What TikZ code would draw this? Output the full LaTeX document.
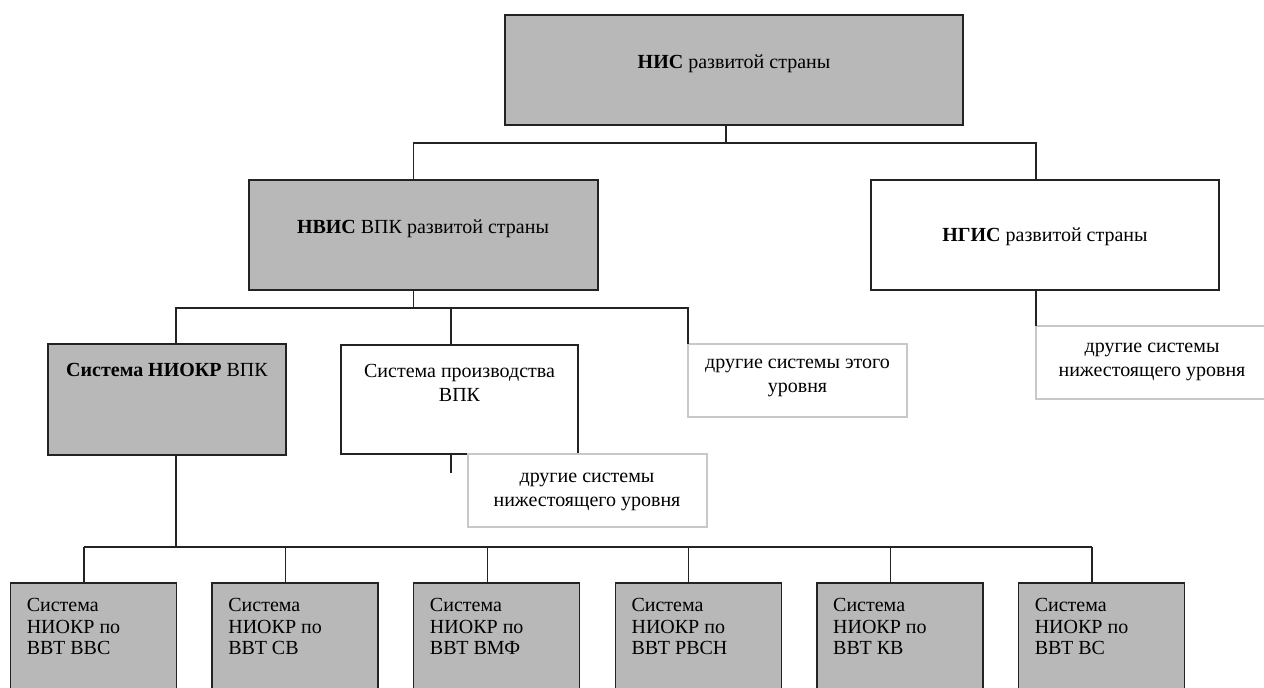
\documentclass[tikz,border=0pt]{standalone}
\usepackage{fontspec}
\setmainfont{Liberation Serif}
\definecolor{boxgray}{RGB}{184,184,184}
\definecolor{lightborder}{RGB}{200,200,200}
\definecolor{linec}{RGB}{35,35,35}
\begin{document}
\begin{tikzpicture}[x=0.75pt,y=-0.75pt,
  boxg/.style={draw=linec, line width=1pt, fill=boxgray, anchor=north west, inner sep=0pt, outer sep=0pt},
  boxw/.style={draw=linec, line width=1pt, fill=white, anchor=north west, inner sep=0pt, outer sep=0pt},
  boxl/.style={draw=lightborder, line width=0.8pt, fill=white, anchor=north west, inner sep=0pt, outer sep=0pt},
  conn/.style={draw=linec, line width=1pt},
  txt/.style={font=\fontsize{15pt}{18pt}\selectfont, align=center, inner sep=0pt},
  txtl/.style={font=\fontsize{15pt}{16.2pt}\selectfont, align=left, anchor=north west, inner sep=0pt}]
\useasboundingbox (0,0) rectangle (1264,688);
\clip (0,0) rectangle (1264,688);

% boxes
\node[boxg, minimum width={458*0.75pt}, minimum height={110*0.75pt}] (top) at (505,15) {};
\node[boxg, minimum width={349*0.75pt}, minimum height={110*0.75pt}] (nvis) at (249,180) {};
\node[boxw, minimum width={348*0.75pt}, minimum height={110*0.75pt}] (ngis) at (871,180) {};
\node[boxg, minimum width={238*0.75pt}, minimum height={111*0.75pt}] (niokr) at (48,344) {};
\node[boxw, minimum width={237*0.75pt}, minimum height={109*0.75pt}] (prod) at (341,345) {};
\node[boxl, minimum width={239*0.75pt}, minimum height={73*0.75pt}] (oth1) at (468,454) {};
\node[boxl, minimum width={219*0.75pt}, minimum height={73*0.75pt}] (oth2) at (688,344) {};
\node[boxl, minimum width={240*0.75pt}, minimum height={73*0.75pt}] (oth3) at (1036,326) {};

\foreach \i/\name in {0/ВВТ ВВС,1/ВВТ СВ,2/ВВТ ВМФ,3/ВВТ РВСН,4/ВВТ КВ,5/ВВТ ВС}{
  \node[boxg, minimum width={166*0.75pt}, minimum height={130*0.75pt}] (b\i) at ({10.5+201.6*\i},583) {};
  \node[txtl] (bt\i) at ({26.5+201.6*\i},598) {Система\\НИОКР по\\\name};
  \coordinate (k\i) at ({84+201.6*\i},547);
}

% texts
\node[txt] (ttop) at (734,64) {\textbf{НИС} развитой страны};
\node[txt] (tnvis) at (423,229) {\textbf{НВИС} ВПК развитой страны};
\node[txt] (tngis) at (1045,237) {\textbf{НГИС} развитой страны};
\node[txt] (tniokr) at (167,370) {\textbf{Система НИОКР} ВПК};
\node[txt] (tprod) at (459.5,383) {Система производства\\ВПК};
\node[txt] (toth1) at (587,492) {другие системы\\нижестоящего уровня};
\node[txt] (toth2) at (797.5,378) {другие системы этого\\уровня};
\node[txt, font=\fontsize{15pt}{17.5pt}\selectfont] (toth3) at (1152,362) {другие системы\\нижестоящего уровня};

% junction coordinates
\coordinate (hA) at (726,143);
\coordinate (ja) at (413.5,143);
\coordinate (jb) at (1036,143);
\coordinate (jc) at (413.5,308);
\coordinate (jd) at (176,308);
\coordinate (je) at (451,308);
\coordinate (jf) at (688,308);
\coordinate (js) at (451,473);
\coordinate (jg) at (176,547);

% connectors
\draw[conn] (top.south -| hA) -- (hA);
\draw[conn] (nvis.north -| ja) -- (ja) -- (jb) -- (ngis.north -| jb);
\draw[conn] (nvis.south -| jc) -- (jc);
\draw[conn] (niokr.north -| jd) -- (jd) -- (jf) -- (oth2.north west);
\draw[conn] (je) -- (prod.north -| je);
\draw[conn] (prod.south -| js) -- (js);
\draw[conn] (ngis.south -| jb) -- (oth3.north west);
\draw[conn] (niokr.south -| jg) -- (jg);
\draw[conn] (k0) -- (k5);
\foreach \i in {0,...,5}{
  \draw[conn] (k\i) -- (b\i.north -| k\i);
}
\end{tikzpicture}
\end{document}
